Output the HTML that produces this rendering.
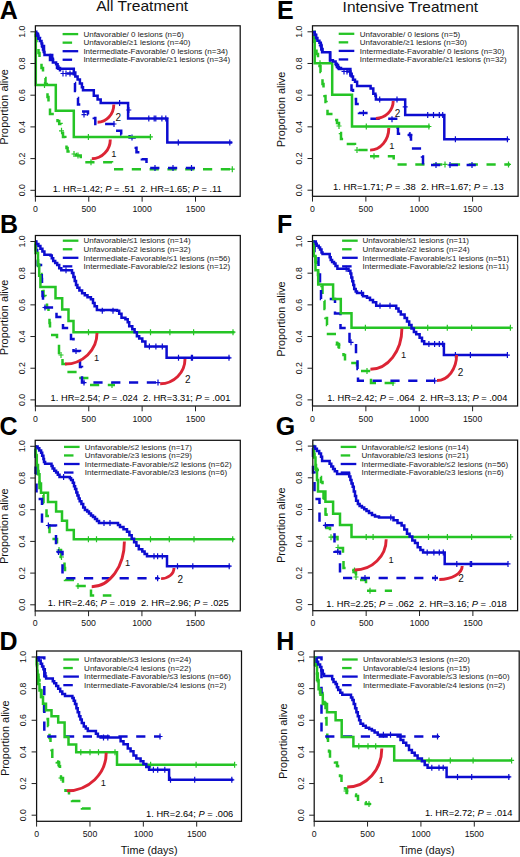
<!DOCTYPE html>
<html><head><meta charset="utf-8"><style>html,body{margin:0;padding:0;background:#fff;width:520px;height:857px;overflow:hidden}svg{display:block}</style></head>
<body><svg width="520" height="857" viewBox="0 0 520 857" font-family='"Liberation Sans", sans-serif'><style>text{stroke:none}</style><rect width="520" height="857" fill="#fff"/><text x="96.2" y="10.9" font-size="15" fill="#111" textLength="92" lengthAdjust="spacingAndGlyphs">All Treatment</text><text x="342.6" y="11.9" font-size="15" fill="#111" textLength="135.5" lengthAdjust="spacingAndGlyphs">Intensive Treatment</text><text x="-0.20" y="18.6" font-size="25" font-weight="bold" fill="#000">A</text><text x="277.00" y="18.6" font-size="25" font-weight="bold" fill="#000">E</text><text x="0.00" y="232.5" font-size="25" font-weight="bold" fill="#000">B</text><text x="277.00" y="232.6" font-size="25" font-weight="bold" fill="#000">F</text><text x="-0.40" y="435" font-size="25" font-weight="bold" fill="#000">C</text><text x="275.80" y="434.7" font-size="25" font-weight="bold" fill="#000">G</text><text x="-0.60" y="650.2" font-size="25" font-weight="bold" fill="#000">D</text><text x="276.30" y="650" font-size="25" font-weight="bold" fill="#000">H</text><g><path d="M35.4,31.8H35.8V36.0H36.5V43.0H37.5V48.0H38.5V53.0H39.5V58.0H40.5V63.0H41.5V68.0H43.0V72.0H44.5V78.0H45.5V84.0H46.8V92.0H47.5V97.0H48.5V103.0H49.2V108.0H50.0V114.0H56.0V118.0H57.5V121.0H59.2V124.0H61.5V129.0H62.3V133.0H63.0V137.0H65.3V144.0H66.5V148.0H67.6V151.5H72.2V154.0H76.0V155.5H80.7V157.0H85.0V162.3H112.0V169.2H235.0" fill="none" stroke="#25c425" stroke-width="2.5" stroke-dasharray="9.2 8.6" stroke-dashoffset="15.40"/><path d="M61.5,127.8V133.8M59.0,130.8H64.0" stroke="#25c425" stroke-width="1.2"/><path d="M74.0,151.0V157.0M71.5,154.0H76.5" stroke="#25c425" stroke-width="1.2"/><path d="M78.0,152.5V158.5M75.5,155.5H80.5" stroke="#25c425" stroke-width="1.2"/><path d="M91.0,159.3V165.3M88.5,162.3H93.5" stroke="#25c425" stroke-width="1.2"/><path d="M232.3,166.2V172.2M229.8,169.2H234.8" stroke="#25c425" stroke-width="1.2"/><path d="M35.4,31.8H36.5V34.0H38.0V38.0H40.0V42.0H42.0V46.0H44.0V51.0H46.0V55.0H50.0V60.0H53.0V64.0H57.0V68.0H60.0V73.5H73.8V83.0H75.0V91.0H76.5V98.0H78.0V104.6H80.7V111.5H88.0V114.6H93.8V118.0H95.3V124.0H117.3V130.8H121.2V134.6H129.6V137.5H135.8V147.7H136.5V152.3H141.9V159.2H146.5V163.8H149.0V167.9H196.3" fill="none" stroke="#0c0cd0" stroke-width="2.5" stroke-dasharray="9.2 8.6" stroke-dashoffset="16.10"/><path d="M63.0,70.5V76.5M60.5,73.5H65.5" stroke="#0c0cd0" stroke-width="1.2"/><path d="M66.0,70.5V76.5M63.5,73.5H68.5" stroke="#0c0cd0" stroke-width="1.2"/><path d="M70.0,70.5V76.5M67.5,73.5H72.5" stroke="#0c0cd0" stroke-width="1.2"/><path d="M84.0,111.6V117.6M81.5,114.6H86.5" stroke="#0c0cd0" stroke-width="1.2"/><path d="M114.0,121.0V127.0M111.5,124.0H116.5" stroke="#0c0cd0" stroke-width="1.2"/><path d="M132.0,134.5V140.5M129.5,137.5H134.5" stroke="#0c0cd0" stroke-width="1.2"/><path d="M155.0,164.9V170.9M152.5,167.9H157.5" stroke="#0c0cd0" stroke-width="1.2"/><path d="M173.0,164.9V170.9M170.5,167.9H175.5" stroke="#0c0cd0" stroke-width="1.2"/><path d="M191.5,164.9V170.9M189.0,167.9H194.0" stroke="#0c0cd0" stroke-width="1.2"/><path d="M35.8,31.8V84.9H55.8V110.8H73.8V136.9H151.2" fill="none" stroke="#25c425" stroke-width="2.5"/><path d="M44.5,81.9V87.9M42.0,84.9H47.0" stroke="#25c425" stroke-width="1.2"/><path d="M88.4,133.9V139.9M85.9,136.9H90.9" stroke="#25c425" stroke-width="1.2"/><path d="M150.4,133.9V139.9M147.9,136.9H152.9" stroke="#25c425" stroke-width="1.2"/><path d="M35.3,31.8H36.3V33.5H37.3V35.7H38.4V38.8H39.9V41.1H41.5V43.4H42.2V46.5H43.0V49.5H43.8V52.0H44.5V54.9H52.2V58.8H52.9V62.6H56.1V64.2H57.6V66.5H58.4V68.8H73.8V72.6H75.3V76.5H77.6V79.5H79.9V83.4H81.9V87.2H83.0V90.3H93.8V95.7H97.6V99.5H100.7V103.1H128.1V118.5H167.3V142.5H232.3" fill="none" stroke="#0c0cd0" stroke-width="2.5"/><path d="M119.6,100.1V106.1M117.1,103.1H122.1" stroke="#0c0cd0" stroke-width="1.2"/><path d="M128.8,107.0V113.0M126.3,110.0H131.3" stroke="#0c0cd0" stroke-width="1.2"/><path d="M148.8,115.5V121.5M146.3,118.5H151.3" stroke="#0c0cd0" stroke-width="1.2"/><path d="M154.2,115.5V121.5M151.7,118.5H156.7" stroke="#0c0cd0" stroke-width="1.2"/><path d="M155.8,115.5V121.5M153.3,118.5H158.3" stroke="#0c0cd0" stroke-width="1.2"/><path d="M161.9,115.5V121.5M159.4,118.5H164.4" stroke="#0c0cd0" stroke-width="1.2"/><path d="M165.8,115.5V121.5M163.3,118.5H168.3" stroke="#0c0cd0" stroke-width="1.2"/><path d="M178.3,139.5V145.5M175.8,142.5H180.8" stroke="#0c0cd0" stroke-width="1.2"/><path d="M229.8,139.5V145.5M227.3,142.5H232.3" stroke="#0c0cd0" stroke-width="1.2"/><path d="M97.6,122.2A16.2,17.7 0 0 0 113.8,104.5" fill="none" stroke="#dc2435" stroke-width="2.9"/><text x="115.6" y="120.8" font-size="10" fill="#111">2</text><path d="M91.8,158.8A18.5,19.4 0 0 0 110.3,139.4" fill="none" stroke="#dc2435" stroke-width="2.9"/><text x="111.3" y="156.8" font-size="9.3" fill="#111">1</text><rect x="35.4" y="25.8" width="204.79999999999998" height="170.6" fill="none" stroke="#111" stroke-width="1.25"/><line x1="35.40" y1="196.4" x2="35.40" y2="201.70000000000002" stroke="#222" stroke-width="1"/><text x="35.40" y="211.9" font-size="8.7" text-anchor="middle" fill="#111">0</text><line x1="88.77" y1="196.4" x2="88.77" y2="201.70000000000002" stroke="#222" stroke-width="1"/><text x="88.77" y="211.9" font-size="8.7" text-anchor="middle" fill="#111">500</text><line x1="142.13" y1="196.4" x2="142.13" y2="201.70000000000002" stroke="#222" stroke-width="1"/><text x="142.13" y="211.9" font-size="8.7" text-anchor="middle" fill="#111">1000</text><line x1="195.50" y1="196.4" x2="195.50" y2="201.70000000000002" stroke="#222" stroke-width="1"/><text x="195.50" y="211.9" font-size="8.7" text-anchor="middle" fill="#111">1500</text><line x1="30.4" y1="190.30" x2="35.4" y2="190.30" stroke="#222" stroke-width="1"/><text transform="translate(24.70,190.30) rotate(-90)" font-size="8.7" text-anchor="middle" fill="#111">0.0</text><line x1="30.4" y1="158.60" x2="35.4" y2="158.60" stroke="#222" stroke-width="1"/><text transform="translate(24.70,158.60) rotate(-90)" font-size="8.7" text-anchor="middle" fill="#111">0.2</text><line x1="30.4" y1="126.90" x2="35.4" y2="126.90" stroke="#222" stroke-width="1"/><text transform="translate(24.70,126.90) rotate(-90)" font-size="8.7" text-anchor="middle" fill="#111">0.4</text><line x1="30.4" y1="95.20" x2="35.4" y2="95.20" stroke="#222" stroke-width="1"/><text transform="translate(24.70,95.20) rotate(-90)" font-size="8.7" text-anchor="middle" fill="#111">0.6</text><line x1="30.4" y1="63.50" x2="35.4" y2="63.50" stroke="#222" stroke-width="1"/><text transform="translate(24.70,63.50) rotate(-90)" font-size="8.7" text-anchor="middle" fill="#111">0.8</text><line x1="30.4" y1="31.80" x2="35.4" y2="31.80" stroke="#222" stroke-width="1"/><text transform="translate(24.70,31.80) rotate(-90)" font-size="8.7" text-anchor="middle" fill="#111">1.0</text><text transform="translate(7.90,107.00) rotate(-90)" font-size="10.3" text-anchor="middle" fill="#111" textLength="75.5" lengthAdjust="spacingAndGlyphs">Proportion alive</text><line x1="62.6" y1="34.10" x2="78.20" y2="34.10" stroke="#25c425" stroke-width="2.3"/><text x="83.4" y="36.80" font-size="8.03" fill="#222">Unfavorable/ 0 lesions (n=6)</text><line x1="62.6" y1="42.65" x2="72.10" y2="42.65" stroke="#25c425" stroke-width="2.3"/><text x="83.4" y="45.35" font-size="8.03" fill="#222">Unfavorable/≥1 lesions (n=40)</text><line x1="62.6" y1="51.20" x2="78.20" y2="51.20" stroke="#0c0cd0" stroke-width="2.3"/><text x="83.4" y="53.90" font-size="8.03" fill="#222">Intermediate-Favorable/ 0 lesions (n=34)</text><line x1="62.6" y1="59.75" x2="72.10" y2="59.75" stroke="#0c0cd0" stroke-width="2.3"/><text x="83.4" y="62.45" font-size="8.03" fill="#222">Intermediate-Favorable/≥1 lesions (n=34)</text><text x="52.7" y="191.5" font-size="8.4" fill="#000" xml:space="preserve" textLength="169.0" lengthAdjust="spacingAndGlyphs">1. HR=1.42; <tspan font-style="italic">P</tspan> = .51  2. HR=1.65; <tspan font-style="italic">P</tspan> = .11</text></g><g><path d="M35.4,241.8H35.8V250.0H36.6V258.0H38.0V266.0H40.0V274.0H41.5V282.0H42.5V291.0H43.5V296.0H45.5V303.0H47.0V308.0H48.5V316.0H49.5V323.0H50.0V335.0H57.0V344.0H59.0V353.0H61.5V358.0H62.5V364.0H65.5V372.0H78.0V378.0H88.5V385.0H115.0" fill="none" stroke="#25c425" stroke-width="2.5" stroke-dasharray="9.2 8.6" stroke-dashoffset="15.80"/><path d="M61.0,352.0V358.0M58.5,355.0H63.5" stroke="#25c425" stroke-width="1.2"/><path d="M112.0,382.0V388.0M109.5,385.0H114.5" stroke="#25c425" stroke-width="1.2"/><path d="M35.4,241.8H36.0V250.0H37.2V257.0H37.8V265.0H41.0V271.0H41.8V279.0H42.0V286.0H42.5V296.0H43.0V307.5H56.5V317.0H63.0V328.0H71.0V339.0H73.5V351.0H80.0V367.0H82.0V382.6H158.0" fill="none" stroke="#0c0cd0" stroke-width="2.5" stroke-dasharray="9.2 8.6" stroke-dashoffset="14.80"/><path d="M45.0,304.5V310.5M42.5,307.5H47.5" stroke="#0c0cd0" stroke-width="1.2"/><path d="M76.0,348.0V354.0M73.5,351.0H78.5" stroke="#0c0cd0" stroke-width="1.2"/><path d="M84.0,379.6V385.6M81.5,382.6H86.5" stroke="#0c0cd0" stroke-width="1.2"/><path d="M158.0,379.6V385.6M155.5,382.6H160.5" stroke="#0c0cd0" stroke-width="1.2"/><path d="M35.4,241.8H35.6V253.1H38.0V264.4H39.2V275.7H40.4V287.0H55.5V298.3H62.2V309.6H68.5V320.9H73.5V332.2H234.5" fill="none" stroke="#25c425" stroke-width="2.5"/><path d="M88.5,329.2V335.2M86.0,332.2H91.0" stroke="#25c425" stroke-width="1.2"/><path d="M150.5,329.2V335.2M148.0,332.2H153.0" stroke="#25c425" stroke-width="1.2"/><path d="M169.9,329.2V335.2M167.4,332.2H172.4" stroke="#25c425" stroke-width="1.2"/><path d="M193.6,329.2V335.2M191.1,332.2H196.1" stroke="#25c425" stroke-width="1.2"/><path d="M233.0,329.2V335.2M230.5,332.2H235.5" stroke="#25c425" stroke-width="1.2"/><path d="M35.0,241.4H36.4V244.0H38.4V246.0H40.4V248.8H42.4V251.5H44.4V254.8H50.5V255.5H51.8V258.2H53.2V260.9H55.2V262.9H57.2V264.9H59.2V268.3H61.3V270.3H72.0V273.0H73.4V277.0H74.7V281.0H76.0V285.0H77.4V287.8H79.4V290.5H82.1V293.2H84.8V295.2H87.5V297.2H90.9V299.2H93.0V303.0H94.6V306.2H96.9V310.0H117.0V310.8H119.2V313.8H121.5V317.7H125.4V319.2H127.7V322.3H129.2V326.2H132.3V329.2H134.6V332.3H136.9V336.2H139.2V338.5H142.3V341.5H145.4V346.6H166.6V357.8H230.2" fill="none" stroke="#0c0cd0" stroke-width="2.5"/><path d="M66.0,267.3V273.3M63.5,270.3H68.5" stroke="#0c0cd0" stroke-width="1.2"/><path d="M102.3,307.8V313.8M99.8,310.8H104.8" stroke="#0c0cd0" stroke-width="1.2"/><path d="M113.0,307.8V313.8M110.5,310.8H115.5" stroke="#0c0cd0" stroke-width="1.2"/><path d="M149.4,343.6V349.6M146.9,346.6H151.9" stroke="#0c0cd0" stroke-width="1.2"/><path d="M155.9,343.6V349.6M153.4,346.6H158.4" stroke="#0c0cd0" stroke-width="1.2"/><path d="M162.3,343.6V349.6M159.8,346.6H164.8" stroke="#0c0cd0" stroke-width="1.2"/><path d="M178.5,354.8V360.8M176.0,357.8H181.0" stroke="#0c0cd0" stroke-width="1.2"/><path d="M191.4,354.8V360.8M188.9,357.8H193.9" stroke="#0c0cd0" stroke-width="1.2"/><path d="M192.5,354.8V360.8M190.0,357.8H195.0" stroke="#0c0cd0" stroke-width="1.2"/><path d="M229.0,354.8V360.8M226.5,357.8H231.5" stroke="#0c0cd0" stroke-width="1.2"/><path d="M65.0,364.0A32.0,31.0 0 0 0 97.0,333.0" fill="none" stroke="#dc2435" stroke-width="2.9"/><text x="94" y="361" font-size="9.3" fill="#111">1</text><path d="M160.2,383.7A24.8,24.7 0 0 0 185.0,359.0" fill="none" stroke="#dc2435" stroke-width="2.9"/><text x="185" y="382.6" font-size="10" fill="#111">2</text><rect x="35.4" y="235.5" width="204.9" height="170.5" fill="none" stroke="#111" stroke-width="1.25"/><line x1="35.40" y1="406.0" x2="35.40" y2="411.3" stroke="#222" stroke-width="1"/><text x="35.40" y="421.5" font-size="8.7" text-anchor="middle" fill="#111">0</text><line x1="88.77" y1="406.0" x2="88.77" y2="411.3" stroke="#222" stroke-width="1"/><text x="88.77" y="421.5" font-size="8.7" text-anchor="middle" fill="#111">500</text><line x1="142.13" y1="406.0" x2="142.13" y2="411.3" stroke="#222" stroke-width="1"/><text x="142.13" y="421.5" font-size="8.7" text-anchor="middle" fill="#111">1000</text><line x1="195.50" y1="406.0" x2="195.50" y2="411.3" stroke="#222" stroke-width="1"/><text x="195.50" y="421.5" font-size="8.7" text-anchor="middle" fill="#111">1500</text><line x1="30.4" y1="399.90" x2="35.4" y2="399.90" stroke="#222" stroke-width="1"/><text transform="translate(24.70,399.90) rotate(-90)" font-size="8.7" text-anchor="middle" fill="#111">0.0</text><line x1="30.4" y1="368.22" x2="35.4" y2="368.22" stroke="#222" stroke-width="1"/><text transform="translate(24.70,368.22) rotate(-90)" font-size="8.7" text-anchor="middle" fill="#111">0.2</text><line x1="30.4" y1="336.54" x2="35.4" y2="336.54" stroke="#222" stroke-width="1"/><text transform="translate(24.70,336.54) rotate(-90)" font-size="8.7" text-anchor="middle" fill="#111">0.4</text><line x1="30.4" y1="304.86" x2="35.4" y2="304.86" stroke="#222" stroke-width="1"/><text transform="translate(24.70,304.86) rotate(-90)" font-size="8.7" text-anchor="middle" fill="#111">0.6</text><line x1="30.4" y1="273.18" x2="35.4" y2="273.18" stroke="#222" stroke-width="1"/><text transform="translate(24.70,273.18) rotate(-90)" font-size="8.7" text-anchor="middle" fill="#111">0.8</text><line x1="30.4" y1="241.50" x2="35.4" y2="241.50" stroke="#222" stroke-width="1"/><text transform="translate(24.70,241.50) rotate(-90)" font-size="8.7" text-anchor="middle" fill="#111">1.0</text><text transform="translate(7.90,317.50) rotate(-90)" font-size="10.3" text-anchor="middle" fill="#111" textLength="75.5" lengthAdjust="spacingAndGlyphs">Proportion alive</text><line x1="62.8" y1="240.70" x2="78.40" y2="240.70" stroke="#25c425" stroke-width="2.3"/><text x="83.5" y="243.40" font-size="8.03" fill="#222">Unfavorable/≤1 lesions (n=14)</text><line x1="62.8" y1="249.25" x2="72.30" y2="249.25" stroke="#25c425" stroke-width="2.3"/><text x="83.5" y="251.95" font-size="8.03" fill="#222">Unfavorable/≥2 lesions (n=32)</text><line x1="62.8" y1="257.80" x2="78.40" y2="257.80" stroke="#0c0cd0" stroke-width="2.3"/><text x="83.5" y="260.50" font-size="8.03" fill="#222">Intermediate-Favorable/≤1 lesions (n=56)</text><line x1="62.8" y1="266.35" x2="72.30" y2="266.35" stroke="#0c0cd0" stroke-width="2.3"/><text x="83.5" y="269.05" font-size="8.03" fill="#222">Intermediate-Favorable/≥2 lesions (n=12)</text><text x="50.6" y="401.2" font-size="8.4" fill="#000" xml:space="preserve" textLength="179.8" lengthAdjust="spacingAndGlyphs">1. HR=2.54; <tspan font-style="italic">P</tspan> = .024  2. HR=3.31; <tspan font-style="italic">P</tspan> = .001</text></g><g><path d="M35.2,446.3H35.8V455.0H36.5V463.0H37.2V471.0H38.5V480.0H39.5V488.0H42.0V495.0H43.5V503.0H45.5V508.0H46.5V516.0H49.5V539.0H57.0V550.0H61.0V557.0H63.0V562.0H64.5V568.0H65.0V580.0H76.0V586.0H91.0V595.4H111.4" fill="none" stroke="#25c425" stroke-width="2.5" stroke-dasharray="9.2 8.6" stroke-dashoffset="14.70"/><path d="M59.0,547.0V553.0M56.5,550.0H61.5" stroke="#25c425" stroke-width="1.2"/><path d="M61.5,554.0V560.0M59.0,557.0H64.0" stroke="#25c425" stroke-width="1.2"/><path d="M78.0,583.0V589.0M75.5,586.0H80.5" stroke="#25c425" stroke-width="1.2"/><path d="M35.2,446.3H35.6V472.7H36.5V499.1H42.0V525.5H56.0V551.9H62.5V578.3H158.7" fill="none" stroke="#0c0cd0" stroke-width="2.5" stroke-dasharray="9.2 8.6" stroke-dashoffset="15.00"/><path d="M48.4,522.5V528.5M45.9,525.5H50.9" stroke="#0c0cd0" stroke-width="1.2"/><path d="M58.5,548.9V554.9M56.0,551.9H61.0" stroke="#0c0cd0" stroke-width="1.2"/><path d="M157.6,575.3V581.3M155.1,578.3H160.1" stroke="#0c0cd0" stroke-width="1.2"/><path d="M35.3,446.3H35.8V455.6H36.8V464.9H38.0V474.2H39.5V483.5H41.0V492.8H48.0V502.1H56.1V511.4H62.0V520.7H67.0V530.0H73.8V539.2H233.8" fill="none" stroke="#25c425" stroke-width="2.5"/><path d="M88.4,536.2V542.2M85.9,539.2H90.9" stroke="#25c425" stroke-width="1.2"/><path d="M96.5,536.2V542.2M94.0,539.2H99.0" stroke="#25c425" stroke-width="1.2"/><path d="M150.5,536.2V542.2M148.0,539.2H153.0" stroke="#25c425" stroke-width="1.2"/><path d="M169.3,536.2V542.2M166.8,539.2H171.8" stroke="#25c425" stroke-width="1.2"/><path d="M194.0,536.2V542.2M191.5,539.2H196.5" stroke="#25c425" stroke-width="1.2"/><path d="M232.7,536.2V542.2M230.2,539.2H235.2" stroke="#25c425" stroke-width="1.2"/><path d="M35.3,446.5H37.6V448.2H39.3V450.5H41.1V452.8H42.2V455.7H43.4V459.1H44.0V462.0H45.1V463.8H51.5V466.1H52.6V468.4H54.3V470.7H56.1V472.4H57.8V474.7H59.5V477.0H69.9V478.2H71.1V479.9H72.8V482.8H74.0V486.3H75.1V489.1H76.3V492.6H77.4V495.5H78.6V498.4H79.7V501.2H81.4V504.1H83.2V507.6H84.9V509.9H87.2V511.6H89.0V513.5H91.0V515.5H93.0V517.0H95.0V519.0H97.0V521.0H99.0V523.0H118.0V525.0H120.0V527.0H123.5V529.3H127.0V531.7H129.4V535.2H131.7V538.7H134.1V542.3H136.4V545.8H138.8V549.3H142.3V551.6H144.6V554.0H147.0V556.3H167.0V566.2H230.3" fill="none" stroke="#0c0cd0" stroke-width="2.5"/><path d="M63.6,474.0V480.0M61.1,477.0H66.1" stroke="#0c0cd0" stroke-width="1.2"/><path d="M104.0,520.0V526.0M101.5,523.0H106.5" stroke="#0c0cd0" stroke-width="1.2"/><path d="M110.0,520.0V526.0M107.5,523.0H112.5" stroke="#0c0cd0" stroke-width="1.2"/><path d="M154.0,553.3V559.3M151.5,556.3H156.5" stroke="#0c0cd0" stroke-width="1.2"/><path d="M157.6,553.3V559.3M155.1,556.3H160.1" stroke="#0c0cd0" stroke-width="1.2"/><path d="M162.3,553.3V559.3M159.8,556.3H164.8" stroke="#0c0cd0" stroke-width="1.2"/><path d="M177.5,563.2V569.2M175.0,566.2H180.0" stroke="#0c0cd0" stroke-width="1.2"/><path d="M192.8,563.2V569.2M190.3,566.2H195.3" stroke="#0c0cd0" stroke-width="1.2"/><path d="M229.2,563.2V569.2M226.7,566.2H231.7" stroke="#0c0cd0" stroke-width="1.2"/><path d="M91.7,586.7A32.7,45.2 0 0 0 124.4,541.5" fill="none" stroke="#dc2435" stroke-width="2.9"/><text x="124.9" y="565.6" font-size="9.3" fill="#111">1</text><path d="M161.1,578.6A12.9,10.6 0 0 0 174.0,568.0" fill="none" stroke="#dc2435" stroke-width="2.9"/><text x="177.5" y="583.3" font-size="10" fill="#111">2</text><rect x="35.2" y="440.3" width="205.10000000000002" height="170.59999999999997" fill="none" stroke="#111" stroke-width="1.25"/><line x1="35.20" y1="610.9" x2="35.20" y2="616.1999999999999" stroke="#222" stroke-width="1"/><text x="35.20" y="626.4" font-size="8.7" text-anchor="middle" fill="#111">0</text><line x1="88.56" y1="610.9" x2="88.56" y2="616.1999999999999" stroke="#222" stroke-width="1"/><text x="88.56" y="626.4" font-size="8.7" text-anchor="middle" fill="#111">500</text><line x1="141.93" y1="610.9" x2="141.93" y2="616.1999999999999" stroke="#222" stroke-width="1"/><text x="141.93" y="626.4" font-size="8.7" text-anchor="middle" fill="#111">1000</text><line x1="195.30" y1="610.9" x2="195.30" y2="616.1999999999999" stroke="#222" stroke-width="1"/><text x="195.30" y="626.4" font-size="8.7" text-anchor="middle" fill="#111">1500</text><line x1="30.200000000000003" y1="604.80" x2="35.2" y2="604.80" stroke="#222" stroke-width="1"/><text transform="translate(24.50,604.80) rotate(-90)" font-size="8.7" text-anchor="middle" fill="#111">0.0</text><line x1="30.200000000000003" y1="573.10" x2="35.2" y2="573.10" stroke="#222" stroke-width="1"/><text transform="translate(24.50,573.10) rotate(-90)" font-size="8.7" text-anchor="middle" fill="#111">0.2</text><line x1="30.200000000000003" y1="541.40" x2="35.2" y2="541.40" stroke="#222" stroke-width="1"/><text transform="translate(24.50,541.40) rotate(-90)" font-size="8.7" text-anchor="middle" fill="#111">0.4</text><line x1="30.200000000000003" y1="509.70" x2="35.2" y2="509.70" stroke="#222" stroke-width="1"/><text transform="translate(24.50,509.70) rotate(-90)" font-size="8.7" text-anchor="middle" fill="#111">0.6</text><line x1="30.200000000000003" y1="478.00" x2="35.2" y2="478.00" stroke="#222" stroke-width="1"/><text transform="translate(24.50,478.00) rotate(-90)" font-size="8.7" text-anchor="middle" fill="#111">0.8</text><line x1="30.200000000000003" y1="446.30" x2="35.2" y2="446.30" stroke="#222" stroke-width="1"/><text transform="translate(24.50,446.30) rotate(-90)" font-size="8.7" text-anchor="middle" fill="#111">1.0</text><text transform="translate(7.70,526.20) rotate(-90)" font-size="10.3" text-anchor="middle" fill="#111" textLength="75.5" lengthAdjust="spacingAndGlyphs">Proportion alive</text><line x1="64.0" y1="446.90" x2="79.60" y2="446.90" stroke="#25c425" stroke-width="2.3"/><text x="84.8" y="449.60" font-size="8.03" fill="#222">Unfavorable/≤2 lesions (n=17)</text><line x1="64.0" y1="455.45" x2="73.50" y2="455.45" stroke="#25c425" stroke-width="2.3"/><text x="84.8" y="458.15" font-size="8.03" fill="#222">Unfavorable/≥3 lesions (n=29)</text><line x1="64.0" y1="464.00" x2="79.60" y2="464.00" stroke="#0c0cd0" stroke-width="2.3"/><text x="84.8" y="466.70" font-size="8.03" fill="#222">Intermediate-Favorable/≤2 lesions (n=62)</text><line x1="64.0" y1="472.55" x2="73.50" y2="472.55" stroke="#0c0cd0" stroke-width="2.3"/><text x="84.8" y="475.25" font-size="8.03" fill="#222">Intermediate-Favorable/≥3 lesions (n=6)</text><text x="47.8" y="605.8" font-size="8.4" fill="#000" xml:space="preserve" textLength="181.0" lengthAdjust="spacingAndGlyphs">1. HR=2.46; <tspan font-style="italic">P</tspan> = .019  2. HR=2.96; <tspan font-style="italic">P</tspan> = .025</text></g><g><path d="M36.6,657.6H37.0V666.0H37.5V673.0H38.5V680.0H39.5V690.0H41.0V697.0H42.5V704.0H44.0V711.0H46.0V719.0H48.0V726.0H49.5V738.0H50.5V742.0H51.5V750.0H52.3V759.0H57.0V762.0H59.0V766.0H60.0V769.0H61.0V778.0H63.0V784.6H65.5V790.8H69.0V797.0H72.0V801.0H82.0V808.5H93.0" fill="none" stroke="#25c425" stroke-width="2.5" stroke-dasharray="9.2 8.6" stroke-dashoffset="0.00"/><path d="M58.0,760.0V766.0M55.5,763.0H60.5" stroke="#25c425" stroke-width="1.2"/><path d="M61.0,775.0V781.0M58.5,778.0H63.5" stroke="#25c425" stroke-width="1.2"/><path d="M36.6,657.6H44.3V736.5H160.5" fill="none" stroke="#0c0cd0" stroke-width="2.5" stroke-dasharray="9.2 8.6" stroke-dashoffset="17.30"/><path d="M160.0,733.5V739.5M157.5,736.5H162.5" stroke="#0c0cd0" stroke-width="1.2"/><path d="M36.6,657.6H36.8V664.2H37.2V670.8H37.6V677.3H38.2V683.9H39.5V690.5H41.5V697.1H43.0V703.7H46.0V710.3H51.5V716.3H58.2V722.6H64.6V737.0H68.5V744.6H76.2V752.3H117.0V764.8H234.6" fill="none" stroke="#25c425" stroke-width="2.5"/><path d="M80.8,749.3V755.3M78.3,752.3H83.3" stroke="#25c425" stroke-width="1.2"/><path d="M90.0,749.3V755.3M87.5,752.3H92.5" stroke="#25c425" stroke-width="1.2"/><path d="M98.5,749.3V755.3M96.0,752.3H101.0" stroke="#25c425" stroke-width="1.2"/><path d="M115.0,749.3V755.3M112.5,752.3H117.5" stroke="#25c425" stroke-width="1.2"/><path d="M150.6,761.8V767.8M148.1,764.8H153.1" stroke="#25c425" stroke-width="1.2"/><path d="M196.1,761.8V767.8M193.6,764.8H198.6" stroke="#25c425" stroke-width="1.2"/><path d="M234.6,761.8V767.8M232.1,764.8H237.1" stroke="#25c425" stroke-width="1.2"/><path d="M36.7,657.7H38.7V660.4H40.7V663.8H42.1V666.5H43.4V669.2H44.8V673.2H45.4V676.6H46.1V678.6H52.8V681.3H54.2V683.3H56.2V686.0H58.2V688.7H60.2V691.4H62.3V694.0H65.0V696.1H72.4V698.1H73.7V700.8H75.0V704.1H76.4V708.2H77.7V712.2H79.1V716.3H80.4V719.6H81.8V723.0H83.8V726.4H85.8V728.4H87.8V731.1H95.9V733.8H97.9V736.4H100.6V737.5H120.6V741.3H123.5V744.2H127.8V748.4H130.6V751.3H133.5V755.6H136.3V758.4H140.6V761.3H143.4V764.1H146.3V767.0H149.1V769.8H169.1V779.8H233.2" fill="none" stroke="#0c0cd0" stroke-width="2.5"/><path d="M103.5,734.5V740.5M101.0,737.5H106.0" stroke="#0c0cd0" stroke-width="1.2"/><path d="M107.8,734.5V740.5M105.3,737.5H110.3" stroke="#0c0cd0" stroke-width="1.2"/><path d="M153.4,766.8V772.8M150.9,769.8H155.9" stroke="#0c0cd0" stroke-width="1.2"/><path d="M157.7,766.8V772.8M155.2,769.8H160.2" stroke="#0c0cd0" stroke-width="1.2"/><path d="M164.8,766.8V772.8M162.3,769.8H167.3" stroke="#0c0cd0" stroke-width="1.2"/><path d="M170.5,776.8V782.8M168.0,779.8H173.0" stroke="#0c0cd0" stroke-width="1.2"/><path d="M194.7,776.8V782.8M192.2,779.8H197.2" stroke="#0c0cd0" stroke-width="1.2"/><path d="M231.8,776.8V782.8M229.3,779.8H234.3" stroke="#0c0cd0" stroke-width="1.2"/><path d="M66.9,790.8A39.3,38.0 0 0 0 106.2,752.8" fill="none" stroke="#dc2435" stroke-width="2.9"/><text x="100.8" y="786.2" font-size="9.3" fill="#111">1</text><rect x="36.6" y="651.0" width="204.9" height="170.29999999999995" fill="none" stroke="#111" stroke-width="1.25"/><line x1="36.60" y1="821.3" x2="36.60" y2="826.5999999999999" stroke="#222" stroke-width="1"/><text x="36.60" y="836.8" font-size="8.7" text-anchor="middle" fill="#111">0</text><line x1="89.97" y1="821.3" x2="89.97" y2="826.5999999999999" stroke="#222" stroke-width="1"/><text x="89.97" y="836.8" font-size="8.7" text-anchor="middle" fill="#111">500</text><line x1="143.33" y1="821.3" x2="143.33" y2="826.5999999999999" stroke="#222" stroke-width="1"/><text x="143.33" y="836.8" font-size="8.7" text-anchor="middle" fill="#111">1000</text><line x1="196.69" y1="821.3" x2="196.69" y2="826.5999999999999" stroke="#222" stroke-width="1"/><text x="196.69" y="836.8" font-size="8.7" text-anchor="middle" fill="#111">1500</text><line x1="31.6" y1="815.20" x2="36.6" y2="815.20" stroke="#222" stroke-width="1"/><text transform="translate(25.90,815.20) rotate(-90)" font-size="8.7" text-anchor="middle" fill="#111">0.0</text><line x1="31.6" y1="783.56" x2="36.6" y2="783.56" stroke="#222" stroke-width="1"/><text transform="translate(25.90,783.56) rotate(-90)" font-size="8.7" text-anchor="middle" fill="#111">0.2</text><line x1="31.6" y1="751.92" x2="36.6" y2="751.92" stroke="#222" stroke-width="1"/><text transform="translate(25.90,751.92) rotate(-90)" font-size="8.7" text-anchor="middle" fill="#111">0.4</text><line x1="31.6" y1="720.28" x2="36.6" y2="720.28" stroke="#222" stroke-width="1"/><text transform="translate(25.90,720.28) rotate(-90)" font-size="8.7" text-anchor="middle" fill="#111">0.6</text><line x1="31.6" y1="688.64" x2="36.6" y2="688.64" stroke="#222" stroke-width="1"/><text transform="translate(25.90,688.64) rotate(-90)" font-size="8.7" text-anchor="middle" fill="#111">0.8</text><line x1="31.6" y1="657.00" x2="36.6" y2="657.00" stroke="#222" stroke-width="1"/><text transform="translate(25.90,657.00) rotate(-90)" font-size="8.7" text-anchor="middle" fill="#111">1.0</text><text transform="translate(9.10,738.30) rotate(-90)" font-size="10.3" text-anchor="middle" fill="#111" textLength="75.5" lengthAdjust="spacingAndGlyphs">Proportion alive</text><line x1="63.3" y1="659.50" x2="78.90" y2="659.50" stroke="#25c425" stroke-width="2.3"/><text x="84.1" y="662.20" font-size="8.03" fill="#222">Unfavorable/≤3 lesions (n=24)</text><line x1="63.3" y1="668.05" x2="72.80" y2="668.05" stroke="#25c425" stroke-width="2.3"/><text x="84.1" y="670.75" font-size="8.03" fill="#222">Unfavorable/≥4 lesions (n=22)</text><line x1="63.3" y1="676.60" x2="78.90" y2="676.60" stroke="#0c0cd0" stroke-width="2.3"/><text x="84.1" y="679.30" font-size="8.03" fill="#222">Intermediate-Favorable/≤3 lesions (n=66)</text><line x1="63.3" y1="685.15" x2="72.80" y2="685.15" stroke="#0c0cd0" stroke-width="2.3"/><text x="84.1" y="687.85" font-size="8.03" fill="#222">Intermediate-Favorable/≥4 lesions (n=2)</text><text x="146.1" y="817.2" font-size="8.4" fill="#000" xml:space="preserve" textLength="87.2" lengthAdjust="spacingAndGlyphs">1. HR=2.64; <tspan font-style="italic">P</tspan> = .006</text></g><g><path d="M312.5,31.8H313.5V38.0H314.5V44.0H315.5V49.0H316.5V54.0H318.0V60.0H319.5V66.0H320.5V72.0H321.5V78.0H322.5V84.0H323.5V90.0H324.5V96.0H325.5V102.0H326.5V108.0H327.5V114.0H333.0V117.0H335.0V120.0H337.0V123.0H339.0V127.0H340.0V133.0H341.0V139.0H345.0V144.0H355.0V150.1H369.0V156.3H393.7V164.4H510.0" fill="none" stroke="#25c425" stroke-width="2.5" stroke-dasharray="9.2 8.6" stroke-dashoffset="13.80"/><path d="M339.0,123.0V129.0M336.5,126.0H341.5" stroke="#25c425" stroke-width="1.2"/><path d="M357.0,147.1V153.1M354.5,150.1H359.5" stroke="#25c425" stroke-width="1.2"/><path d="M374.0,153.3V159.3M371.5,156.3H376.5" stroke="#25c425" stroke-width="1.2"/><path d="M445.0,161.4V167.4M442.5,164.4H447.5" stroke="#25c425" stroke-width="1.2"/><path d="M508.5,161.4V167.4M506.0,164.4H511.0" stroke="#25c425" stroke-width="1.2"/><path d="M312.5,32.0H314.5V35.0H316.0V38.5H318.0V41.5H320.0V45.0H321.5V49.0H322.5V53.0H330.0V60.5H333.0V62.5H336.0V65.0H338.0V68.0H341.0V71.5H350.4V81.8H351.5V90.0H353.0V99.0H356.0V104.0H359.0V113.0H370.0V118.8H397.5V127.5H398.0V133.8H409.0V135.0H411.0V148.5H422.0V156.6H423.0V165.0H476.0" fill="none" stroke="#0c0cd0" stroke-width="2.5" stroke-dasharray="9.2 8.6" stroke-dashoffset="15.50"/><path d="M344.0,68.5V74.5M341.5,71.5H346.5" stroke="#0c0cd0" stroke-width="1.2"/><path d="M347.0,68.5V74.5M344.5,71.5H349.5" stroke="#0c0cd0" stroke-width="1.2"/><path d="M363.4,110.0V116.0M360.9,113.0H365.9" stroke="#0c0cd0" stroke-width="1.2"/><path d="M392.0,116.3V122.3M389.5,119.3H394.5" stroke="#0c0cd0" stroke-width="1.2"/><path d="M410.0,132.0V138.0M407.5,135.0H412.5" stroke="#0c0cd0" stroke-width="1.2"/><path d="M436.0,162.0V168.0M433.5,165.0H438.5" stroke="#0c0cd0" stroke-width="1.2"/><path d="M450.0,162.0V168.0M447.5,165.0H452.5" stroke="#0c0cd0" stroke-width="1.2"/><path d="M472.0,162.0V168.0M469.5,165.0H474.5" stroke="#0c0cd0" stroke-width="1.2"/><path d="M313.2,31.8H314.7V63.3H332.2V94.8H352.0V126.5H430.0" fill="none" stroke="#25c425" stroke-width="2.5"/><path d="M320.0,60.3V66.3M317.5,63.3H322.5" stroke="#25c425" stroke-width="1.2"/><path d="M366.3,123.5V129.5M363.8,126.5H368.8" stroke="#25c425" stroke-width="1.2"/><path d="M428.9,123.5V129.5M426.4,126.5H431.4" stroke="#25c425" stroke-width="1.2"/><path d="M312.7,32.0H314.7V34.7H316.0V38.0H317.4V40.8H319.4V42.8H320.8V46.2H321.4V49.5H322.1V52.2H330.2V60.3H332.9V61.6H335.6V63.7H336.9V67.0H338.9V69.0H350.4V73.8H351.7V76.5H353.0V79.8H355.0V81.8H357.1V85.9H370.6V88.6H373.3V93.8H375.4V95.8H375.9V99.6H405.2V115.0H444.3V139.3H508.5" fill="none" stroke="#0c0cd0" stroke-width="2.5"/><path d="M379.7,96.6V102.6M377.2,99.6H382.2" stroke="#0c0cd0" stroke-width="1.2"/><path d="M397.0,96.6V102.6M394.5,99.6H399.5" stroke="#0c0cd0" stroke-width="1.2"/><path d="M405.2,103.8V109.8M402.7,106.8H407.7" stroke="#0c0cd0" stroke-width="1.2"/><path d="M427.7,112.0V118.0M425.2,115.0H430.2" stroke="#0c0cd0" stroke-width="1.2"/><path d="M433.5,112.0V118.0M431.0,115.0H436.0" stroke="#0c0cd0" stroke-width="1.2"/><path d="M439.3,112.0V118.0M436.8,115.0H441.8" stroke="#0c0cd0" stroke-width="1.2"/><path d="M442.7,112.0V118.0M440.2,115.0H445.2" stroke="#0c0cd0" stroke-width="1.2"/><path d="M455.4,136.3V142.3M452.9,139.3H457.9" stroke="#0c0cd0" stroke-width="1.2"/><path d="M507.4,136.3V142.3M504.9,139.3H509.9" stroke="#0c0cd0" stroke-width="1.2"/><path d="M375.9,118.4A17.3,17.3 0 0 0 393.2,101.1" fill="none" stroke="#dc2435" stroke-width="2.9"/><text x="394.8" y="116.9" font-size="10" fill="#111">2</text><path d="M370.1,150.1A18.7,22.1 0 0 0 388.8,128.0" fill="none" stroke="#dc2435" stroke-width="2.9"/><text x="389.3" y="148.7" font-size="9.3" fill="#111">1</text><rect x="312.5" y="25.8" width="205.60000000000002" height="170.5" fill="none" stroke="#111" stroke-width="1.25"/><line x1="312.50" y1="196.3" x2="312.50" y2="201.60000000000002" stroke="#222" stroke-width="1"/><text x="312.50" y="211.8" font-size="8.7" text-anchor="middle" fill="#111">0</text><line x1="365.87" y1="196.3" x2="365.87" y2="201.60000000000002" stroke="#222" stroke-width="1"/><text x="365.87" y="211.8" font-size="8.7" text-anchor="middle" fill="#111">500</text><line x1="419.23" y1="196.3" x2="419.23" y2="201.60000000000002" stroke="#222" stroke-width="1"/><text x="419.23" y="211.8" font-size="8.7" text-anchor="middle" fill="#111">1000</text><line x1="472.60" y1="196.3" x2="472.60" y2="201.60000000000002" stroke="#222" stroke-width="1"/><text x="472.60" y="211.8" font-size="8.7" text-anchor="middle" fill="#111">1500</text><line x1="307.5" y1="190.20" x2="312.5" y2="190.20" stroke="#222" stroke-width="1"/><text transform="translate(301.80,190.20) rotate(-90)" font-size="8.7" text-anchor="middle" fill="#111">0.0</text><line x1="307.5" y1="158.52" x2="312.5" y2="158.52" stroke="#222" stroke-width="1"/><text transform="translate(301.80,158.52) rotate(-90)" font-size="8.7" text-anchor="middle" fill="#111">0.2</text><line x1="307.5" y1="126.84" x2="312.5" y2="126.84" stroke="#222" stroke-width="1"/><text transform="translate(301.80,126.84) rotate(-90)" font-size="8.7" text-anchor="middle" fill="#111">0.4</text><line x1="307.5" y1="95.16" x2="312.5" y2="95.16" stroke="#222" stroke-width="1"/><text transform="translate(301.80,95.16) rotate(-90)" font-size="8.7" text-anchor="middle" fill="#111">0.6</text><line x1="307.5" y1="63.48" x2="312.5" y2="63.48" stroke="#222" stroke-width="1"/><text transform="translate(301.80,63.48) rotate(-90)" font-size="8.7" text-anchor="middle" fill="#111">0.8</text><line x1="307.5" y1="31.80" x2="312.5" y2="31.80" stroke="#222" stroke-width="1"/><text transform="translate(301.80,31.80) rotate(-90)" font-size="8.7" text-anchor="middle" fill="#111">1.0</text><text transform="translate(285.00,109.40) rotate(-90)" font-size="10.3" text-anchor="middle" fill="#111" textLength="75.5" lengthAdjust="spacingAndGlyphs">Proportion alive</text><line x1="338.7" y1="33.80" x2="354.30" y2="33.80" stroke="#25c425" stroke-width="2.3"/><text x="359.8" y="36.50" font-size="8.03" fill="#222">Unfavorable/ 0 lesions (n=5)</text><line x1="338.7" y1="42.35" x2="348.20" y2="42.35" stroke="#25c425" stroke-width="2.3"/><text x="359.8" y="45.05" font-size="8.03" fill="#222">Unfavorable/≥1 lesions (n=30)</text><line x1="338.7" y1="50.90" x2="354.30" y2="50.90" stroke="#0c0cd0" stroke-width="2.3"/><text x="359.8" y="53.60" font-size="8.03" fill="#222">Intermediate-Favorable/ 0 lesions (n=30)</text><line x1="338.7" y1="59.45" x2="348.20" y2="59.45" stroke="#0c0cd0" stroke-width="2.3"/><text x="359.8" y="62.15" font-size="8.03" fill="#222">Intermediate-Favorable/≥1 lesions (n=32)</text><text x="333.1" y="189.9" font-size="8.4" fill="#000" xml:space="preserve" textLength="170.5" lengthAdjust="spacingAndGlyphs">1. HR=1.71; <tspan font-style="italic">P</tspan> = .38  2. HR=1.67; <tspan font-style="italic">P</tspan> = .13</text></g><g><path d="M312.5,241.5H313.5V248.0H314.5V255.0H315.5V262.0H317.0V269.0H318.0V275.0H319.0V281.0H321.5V286.0H322.5V295.0H323.5V301.0H324.5V309.0H325.5V318.0H327.0V325.0H328.0V334.0H337.0V344.0H339.0V349.0H343.5V355.0H345.0V363.0H357.0V367.0H358.0V371.0H371.0V383.0H394.0" fill="none" stroke="#25c425" stroke-width="2.5" stroke-dasharray="9.2 8.6" stroke-dashoffset="0.00"/><path d="M338.0,342.0V348.0M335.5,345.0H340.5" stroke="#25c425" stroke-width="1.2"/><path d="M367.0,368.0V374.0M364.5,371.0H369.5" stroke="#25c425" stroke-width="1.2"/><path d="M393.0,380.0V386.0M390.5,383.0H395.5" stroke="#25c425" stroke-width="1.2"/><path d="M312.5,241.5H314.5V255.9H318.5V270.3H320.0V284.7H321.0V299.1H335.0V313.5H340.5V327.9H349.5V342.3H356.0V356.7H357.5V369.0H358.0V380.8H437.0" fill="none" stroke="#0c0cd0" stroke-width="2.5" stroke-dasharray="9.2 8.6" stroke-dashoffset="14.20"/><path d="M351.0,339.3V345.3M348.5,342.3H353.5" stroke="#0c0cd0" stroke-width="1.2"/><path d="M434.6,377.8V383.8M432.1,380.8H437.1" stroke="#0c0cd0" stroke-width="1.2"/><path d="M312.5,241.5H313.8V255.9H315.5V270.3H318.2V284.5H333.1V298.9H340.8V313.2H351.5V327.8H510.9" fill="none" stroke="#25c425" stroke-width="2.5"/><path d="M365.4,324.8V330.8M362.9,327.8H367.9" stroke="#25c425" stroke-width="1.2"/><path d="M427.7,324.8V330.8M425.2,327.8H430.2" stroke="#25c425" stroke-width="1.2"/><path d="M447.3,324.8V330.8M444.8,327.8H449.8" stroke="#25c425" stroke-width="1.2"/><path d="M471.6,324.8V330.8M469.1,327.8H474.1" stroke="#25c425" stroke-width="1.2"/><path d="M510.4,324.8V330.8M507.9,327.8H512.9" stroke="#25c425" stroke-width="1.2"/><path d="M313.4,241.4H315.8V243.8H316.7V245.7H318.7V247.6H320.1V249.5H321.5V252.4H322.5V253.9H329.7V257.2H330.7V260.1H332.1V262.0H334.0V263.5H335.5V265.9H337.4V268.8H348.5V270.7H350.4V273.6H351.3V277.4H352.3V281.3H353.3V285.1H354.2V289.0H355.7V291.4H357.0V293.0H363.0V296.2H367.0V297.7H370.0V300.0H373.0V302.3H376.2V305.7H396.2V308.5H398.5V311.5H400.8V314.6H404.6V318.0H407.0V321.6H409.2V325.0H411.5V328.5H413.9V332.0H416.2V334.3H419.6V337.8H422.0V341.2H424.2V344.0H443.9V355.1H507.4" fill="none" stroke="#0c0cd0" stroke-width="2.5"/><path d="M346.2,265.8V271.8M343.7,268.8H348.7" stroke="#0c0cd0" stroke-width="1.2"/><path d="M361.5,290.0V296.0M359.0,293.0H364.0" stroke="#0c0cd0" stroke-width="1.2"/><path d="M380.0,302.7V308.7M377.5,305.7H382.5" stroke="#0c0cd0" stroke-width="1.2"/><path d="M390.0,302.7V308.7M387.5,305.7H392.5" stroke="#0c0cd0" stroke-width="1.2"/><path d="M428.9,341.0V347.0M426.4,344.0H431.4" stroke="#0c0cd0" stroke-width="1.2"/><path d="M434.6,341.0V347.0M432.1,344.0H437.1" stroke="#0c0cd0" stroke-width="1.2"/><path d="M439.3,341.0V347.0M436.8,344.0H441.8" stroke="#0c0cd0" stroke-width="1.2"/><path d="M442.7,341.0V347.0M440.2,344.0H445.2" stroke="#0c0cd0" stroke-width="1.2"/><path d="M455.4,352.1V358.1M452.9,355.1H457.9" stroke="#0c0cd0" stroke-width="1.2"/><path d="M470.4,352.1V358.1M467.9,355.1H472.9" stroke="#0c0cd0" stroke-width="1.2"/><path d="M507.4,352.1V358.1M504.9,355.1H509.9" stroke="#0c0cd0" stroke-width="1.2"/><path d="M370.4,369.2A31.5,40.7 0 0 0 401.9,328.5" fill="none" stroke="#dc2435" stroke-width="2.9"/><text x="401" y="357.7" font-size="9.3" fill="#111">1</text><path d="M437.0,380.5A19.6,25.4 0 0 0 456.6,355.1" fill="none" stroke="#dc2435" stroke-width="2.9"/><text x="457.7" y="376" font-size="10" fill="#111">2</text><rect x="312.5" y="235.5" width="205.10000000000002" height="170.5" fill="none" stroke="#111" stroke-width="1.25"/><line x1="312.50" y1="406.0" x2="312.50" y2="411.3" stroke="#222" stroke-width="1"/><text x="312.50" y="421.5" font-size="8.7" text-anchor="middle" fill="#111">0</text><line x1="365.87" y1="406.0" x2="365.87" y2="411.3" stroke="#222" stroke-width="1"/><text x="365.87" y="421.5" font-size="8.7" text-anchor="middle" fill="#111">500</text><line x1="419.23" y1="406.0" x2="419.23" y2="411.3" stroke="#222" stroke-width="1"/><text x="419.23" y="421.5" font-size="8.7" text-anchor="middle" fill="#111">1000</text><line x1="472.60" y1="406.0" x2="472.60" y2="411.3" stroke="#222" stroke-width="1"/><text x="472.60" y="421.5" font-size="8.7" text-anchor="middle" fill="#111">1500</text><line x1="307.5" y1="399.90" x2="312.5" y2="399.90" stroke="#222" stroke-width="1"/><text transform="translate(301.80,399.90) rotate(-90)" font-size="8.7" text-anchor="middle" fill="#111">0.0</text><line x1="307.5" y1="368.22" x2="312.5" y2="368.22" stroke="#222" stroke-width="1"/><text transform="translate(301.80,368.22) rotate(-90)" font-size="8.7" text-anchor="middle" fill="#111">0.2</text><line x1="307.5" y1="336.54" x2="312.5" y2="336.54" stroke="#222" stroke-width="1"/><text transform="translate(301.80,336.54) rotate(-90)" font-size="8.7" text-anchor="middle" fill="#111">0.4</text><line x1="307.5" y1="304.86" x2="312.5" y2="304.86" stroke="#222" stroke-width="1"/><text transform="translate(301.80,304.86) rotate(-90)" font-size="8.7" text-anchor="middle" fill="#111">0.6</text><line x1="307.5" y1="273.18" x2="312.5" y2="273.18" stroke="#222" stroke-width="1"/><text transform="translate(301.80,273.18) rotate(-90)" font-size="8.7" text-anchor="middle" fill="#111">0.8</text><line x1="307.5" y1="241.50" x2="312.5" y2="241.50" stroke="#222" stroke-width="1"/><text transform="translate(301.80,241.50) rotate(-90)" font-size="8.7" text-anchor="middle" fill="#111">1.0</text><text transform="translate(285.00,319.10) rotate(-90)" font-size="10.3" text-anchor="middle" fill="#111" textLength="75.5" lengthAdjust="spacingAndGlyphs">Proportion alive</text><line x1="342.1" y1="240.70" x2="357.70" y2="240.70" stroke="#25c425" stroke-width="2.3"/><text x="362.5" y="243.40" font-size="8.03" fill="#222">Unfavorable/≤1 lesions (n=11)</text><line x1="342.1" y1="249.25" x2="351.60" y2="249.25" stroke="#25c425" stroke-width="2.3"/><text x="362.5" y="251.95" font-size="8.03" fill="#222">Unfavorable/≥2 lesions (n=24)</text><line x1="342.1" y1="257.80" x2="357.70" y2="257.80" stroke="#0c0cd0" stroke-width="2.3"/><text x="362.5" y="260.50" font-size="8.03" fill="#222">Intermediate-Favorable/≤1 lesions (n=51)</text><line x1="342.1" y1="266.35" x2="351.60" y2="266.35" stroke="#0c0cd0" stroke-width="2.3"/><text x="362.5" y="269.05" font-size="8.03" fill="#222">Intermediate-Favorable/≥2 lesions (n=11)</text><text x="327.2" y="401.1" font-size="8.4" fill="#000" xml:space="preserve" textLength="180.2" lengthAdjust="spacingAndGlyphs">1. HR=2.42; <tspan font-style="italic">P</tspan> = .064  2. HR=3.13; <tspan font-style="italic">P</tspan> = .004</text></g><g><path d="M312.8,446.1H313.5V454.0H314.5V462.0H316.0V470.0H319.5V477.0H321.0V482.0H322.5V490.0H323.5V498.0H324.5V506.0H325.5V514.6H326.5V528.0H330.0V537.0H337.5V548.0H343.0V555.0H343.5V568.0H353.5V572.0H356.0V580.0H366.0V590.8H392.0" fill="none" stroke="#25c425" stroke-width="2.5" stroke-dasharray="9.2 8.6" stroke-dashoffset="14.70"/><path d="M331.0,534.2V540.2M328.5,537.2H333.5" stroke="#25c425" stroke-width="1.2"/><path d="M338.0,544.5V550.5M335.5,547.5H340.5" stroke="#25c425" stroke-width="1.2"/><path d="M354.5,567.5V573.5M352.0,570.5H357.0" stroke="#25c425" stroke-width="1.2"/><path d="M356.0,574.0V580.0M353.5,577.0H358.5" stroke="#25c425" stroke-width="1.2"/><path d="M370.0,587.8V593.8M367.5,590.8H372.5" stroke="#25c425" stroke-width="1.2"/><path d="M312.8,446.1H313.0V472.5H314.5V498.9H319.5V525.3H334.5V551.7H340.0V578.1H438.0" fill="none" stroke="#0c0cd0" stroke-width="2.5" stroke-dasharray="9.2 8.6" stroke-dashoffset="15.80"/><path d="M325.4,522.3V528.3M322.9,525.3H327.9" stroke="#0c0cd0" stroke-width="1.2"/><path d="M337.7,548.7V554.7M335.2,551.7H340.2" stroke="#0c0cd0" stroke-width="1.2"/><path d="M365.0,575.1V581.1M362.5,578.1H367.5" stroke="#0c0cd0" stroke-width="1.2"/><path d="M435.3,575.1V581.1M432.8,578.1H437.8" stroke="#0c0cd0" stroke-width="1.2"/><path d="M313.0,446.1H314.0V457.4H315.5V468.7H317.0V480.0H318.0V491.4H325.4V501.8H333.1V513.8H340.0V524.9H351.5V536.9H510.7" fill="none" stroke="#25c425" stroke-width="2.5"/><path d="M366.2,533.9V539.9M363.7,536.9H368.7" stroke="#25c425" stroke-width="1.2"/><path d="M373.1,533.9V539.9M370.6,536.9H375.6" stroke="#25c425" stroke-width="1.2"/><path d="M428.5,533.9V539.9M426.0,536.9H431.0" stroke="#25c425" stroke-width="1.2"/><path d="M447.4,533.9V539.9M444.9,536.9H449.9" stroke="#25c425" stroke-width="1.2"/><path d="M471.6,533.9V539.9M469.1,536.9H474.1" stroke="#25c425" stroke-width="1.2"/><path d="M510.7,533.9V539.9M508.2,536.9H513.2" stroke="#25c425" stroke-width="1.2"/><path d="M312.9,446.5H315.2V448.8H316.9V451.1H319.2V453.4H321.0V456.8H322.1V460.9H329.6V463.8H331.3V466.6H333.1V469.0H334.8V471.3H337.1V474.1H349.2V476.4H350.4V479.9H351.5V483.4H352.7V486.8H353.8V491.4H355.0V496.1H356.1V500.7H357.9V504.1H359.6V505.9H361.9V507.6H364.2V509.3H366.5V511.0H369.0V513.0H372.0V515.0H375.0V516.5H379.0V517.5H393.5V520.2H397.5V522.9H401.6V525.6H404.3V529.6H407.0V533.7H409.6V536.4H412.3V540.4H415.0V543.1H417.7V547.2H420.4V549.9H423.1V552.6H444.7V563.9H508.0" fill="none" stroke="#0c0cd0" stroke-width="2.5"/><path d="M390.8,514.5V520.5M388.3,517.5H393.3" stroke="#0c0cd0" stroke-width="1.2"/><path d="M427.2,549.6V555.6M424.7,552.6H429.7" stroke="#0c0cd0" stroke-width="1.2"/><path d="M433.9,549.6V555.6M431.4,552.6H436.4" stroke="#0c0cd0" stroke-width="1.2"/><path d="M439.3,549.6V555.6M436.8,552.6H441.8" stroke="#0c0cd0" stroke-width="1.2"/><path d="M443.3,549.6V555.6M440.8,552.6H445.8" stroke="#0c0cd0" stroke-width="1.2"/><path d="M456.8,560.9V566.9M454.3,563.9H459.3" stroke="#0c0cd0" stroke-width="1.2"/><path d="M470.3,560.9V566.9M467.8,563.9H472.8" stroke="#0c0cd0" stroke-width="1.2"/><path d="M471.6,560.9V566.9M469.1,563.9H474.1" stroke="#0c0cd0" stroke-width="1.2"/><path d="M508.0,560.9V566.9M505.5,563.9H510.5" stroke="#0c0cd0" stroke-width="1.2"/><path d="M354.6,570.0A31.6,30.8 0 0 0 386.2,539.2" fill="none" stroke="#dc2435" stroke-width="2.9"/><text x="388.5" y="563" font-size="9.3" fill="#111">1</text><path d="M439.3,579.5A22.9,13.5 0 0 0 462.2,566.0" fill="none" stroke="#dc2435" stroke-width="2.9"/><text x="458.2" y="582.2" font-size="10" fill="#111">2</text><rect x="312.8" y="440.1" width="204.8" height="170.60000000000002" fill="none" stroke="#111" stroke-width="1.25"/><line x1="312.80" y1="610.7" x2="312.80" y2="616.0" stroke="#222" stroke-width="1"/><text x="312.80" y="626.2" font-size="8.7" text-anchor="middle" fill="#111">0</text><line x1="366.17" y1="610.7" x2="366.17" y2="616.0" stroke="#222" stroke-width="1"/><text x="366.17" y="626.2" font-size="8.7" text-anchor="middle" fill="#111">500</text><line x1="419.53" y1="610.7" x2="419.53" y2="616.0" stroke="#222" stroke-width="1"/><text x="419.53" y="626.2" font-size="8.7" text-anchor="middle" fill="#111">1000</text><line x1="472.89" y1="610.7" x2="472.89" y2="616.0" stroke="#222" stroke-width="1"/><text x="472.89" y="626.2" font-size="8.7" text-anchor="middle" fill="#111">1500</text><line x1="307.8" y1="604.60" x2="312.8" y2="604.60" stroke="#222" stroke-width="1"/><text transform="translate(302.10,604.60) rotate(-90)" font-size="8.7" text-anchor="middle" fill="#111">0.0</text><line x1="307.8" y1="572.90" x2="312.8" y2="572.90" stroke="#222" stroke-width="1"/><text transform="translate(302.10,572.90) rotate(-90)" font-size="8.7" text-anchor="middle" fill="#111">0.2</text><line x1="307.8" y1="541.20" x2="312.8" y2="541.20" stroke="#222" stroke-width="1"/><text transform="translate(302.10,541.20) rotate(-90)" font-size="8.7" text-anchor="middle" fill="#111">0.4</text><line x1="307.8" y1="509.50" x2="312.8" y2="509.50" stroke="#222" stroke-width="1"/><text transform="translate(302.10,509.50) rotate(-90)" font-size="8.7" text-anchor="middle" fill="#111">0.6</text><line x1="307.8" y1="477.80" x2="312.8" y2="477.80" stroke="#222" stroke-width="1"/><text transform="translate(302.10,477.80) rotate(-90)" font-size="8.7" text-anchor="middle" fill="#111">0.8</text><line x1="307.8" y1="446.10" x2="312.8" y2="446.10" stroke="#222" stroke-width="1"/><text transform="translate(302.10,446.10) rotate(-90)" font-size="8.7" text-anchor="middle" fill="#111">1.0</text><text transform="translate(285.30,525.20) rotate(-90)" font-size="10.3" text-anchor="middle" fill="#111" textLength="75.5" lengthAdjust="spacingAndGlyphs">Proportion alive</text><line x1="340.7" y1="446.90" x2="356.30" y2="446.90" stroke="#25c425" stroke-width="2.3"/><text x="361.5" y="449.60" font-size="8.03" fill="#222">Unfavorable/≤2 lesions (n=14)</text><line x1="340.7" y1="455.45" x2="350.20" y2="455.45" stroke="#25c425" stroke-width="2.3"/><text x="361.5" y="458.15" font-size="8.03" fill="#222">Unfavorable/≥3 lesions (n=21)</text><line x1="340.7" y1="464.00" x2="356.30" y2="464.00" stroke="#0c0cd0" stroke-width="2.3"/><text x="361.5" y="466.70" font-size="8.03" fill="#222">Intermediate-Favorable/≤2 lesions (n=56)</text><line x1="340.7" y1="472.55" x2="350.20" y2="472.55" stroke="#0c0cd0" stroke-width="2.3"/><text x="361.5" y="475.25" font-size="8.03" fill="#222">Intermediate-Favorable/≥3 lesions (n=6)</text><text x="326.3" y="606.7" font-size="8.4" fill="#000" xml:space="preserve" textLength="180.5" lengthAdjust="spacingAndGlyphs">1. HR=2.25; <tspan font-style="italic">P</tspan> = .062  2. HR=3.16; <tspan font-style="italic">P</tspan> = .018</text></g><g><path d="M314.2,657.6H315.0V665.0H316.0V672.0H317.0V680.0H318.5V687.0H320.0V693.0H322.5V697.0H324.5V703.0H325.5V708.0H326.0V718.0H326.5V726.0H327.3V738.0H328.0V742.3H329.0V751.5H330.0V758.5H335.0V762.5H337.0V766.0H338.0V769.0H340.0V776.0H341.5V783.8H345.0V788.5H347.0V794.6H356.0V796.0H358.0V802.3H365.7V804.0H371.0" fill="none" stroke="#25c425" stroke-width="2.5" stroke-dasharray="9.2 8.6" stroke-dashoffset="0.00"/><path d="M346.0,788.0V794.0M343.5,791.0H348.5" stroke="#25c425" stroke-width="1.2"/><path d="M369.0,801.0V807.0M366.5,804.0H371.5" stroke="#25c425" stroke-width="1.2"/><path d="M314.2,657.6H321.5V736.5H439.0" fill="none" stroke="#0c0cd0" stroke-width="2.5" stroke-dasharray="9.2 8.6" stroke-dashoffset="16.90"/><path d="M437.5,733.5V739.5M435.0,736.5H440.0" stroke="#0c0cd0" stroke-width="1.2"/><path d="M314.2,657.6H316.0V665.5H317.0V673.4H317.8V681.3H318.6V689.2H320.5V694.7H322.8V704.1H327.0V712.2H335.6V720.3H341.7V737.0H353.4V746.2H394.2V760.4H511.6" fill="none" stroke="#25c425" stroke-width="2.5"/><path d="M358.8,743.2V749.2M356.3,746.2H361.3" stroke="#25c425" stroke-width="1.2"/><path d="M368.0,743.2V749.2M365.5,746.2H370.5" stroke="#25c425" stroke-width="1.2"/><path d="M375.7,743.2V749.2M373.2,746.2H378.2" stroke="#25c425" stroke-width="1.2"/><path d="M429.0,757.4V763.4M426.5,760.4H431.5" stroke="#25c425" stroke-width="1.2"/><path d="M450.3,757.4V763.4M447.8,760.4H452.8" stroke="#25c425" stroke-width="1.2"/><path d="M473.1,757.4V763.4M470.6,760.4H475.6" stroke="#25c425" stroke-width="1.2"/><path d="M511.6,757.4V763.4M509.1,760.4H514.1" stroke="#25c425" stroke-width="1.2"/><path d="M315.4,658.4H316.7V661.7H318.1V664.4H320.1V667.1H321.4V670.5H322.8V673.9H324.1V675.9H332.2V679.2H333.5V681.9H335.6V684.0H336.9V687.3H338.2V690.0H340.3V692.7H342.3V694.7H351.0V697.4H352.4V700.1H353.7V704.1H355.1V708.2H356.4V712.2H357.8V716.3H359.1V720.3H360.5V723.7H363.1V725.7H365.8V727.7H369.2V729.0H371.9V730.4H374.6V732.4H377.7V734.8H400.5V739.9H403.3V742.7H406.2V745.6H409.0V749.9H411.9V752.7H414.7V755.6H417.6V758.4H421.9V761.3H424.7V765.0H427.6V767.8H446.6V776.9H510.2" fill="none" stroke="#0c0cd0" stroke-width="2.5"/><path d="M383.4,731.8V737.8M380.9,734.8H385.9" stroke="#0c0cd0" stroke-width="1.2"/><path d="M390.5,731.8V737.8M388.0,734.8H393.0" stroke="#0c0cd0" stroke-width="1.2"/><path d="M431.8,764.8V770.8M429.3,767.8H434.3" stroke="#0c0cd0" stroke-width="1.2"/><path d="M439.0,764.8V770.8M436.5,767.8H441.5" stroke="#0c0cd0" stroke-width="1.2"/><path d="M443.2,764.8V770.8M440.7,767.8H445.7" stroke="#0c0cd0" stroke-width="1.2"/><path d="M457.5,773.9V779.9M455.0,776.9H460.0" stroke="#0c0cd0" stroke-width="1.2"/><path d="M471.7,773.9V779.9M469.2,776.9H474.2" stroke="#0c0cd0" stroke-width="1.2"/><path d="M508.8,773.9V779.9M506.3,776.9H511.3" stroke="#0c0cd0" stroke-width="1.2"/><path d="M347.2,787.0A34.6,38.5 0 0 0 381.8,748.5" fill="none" stroke="#dc2435" stroke-width="2.9"/><text x="378.8" y="783" font-size="9.3" fill="#111">1</text><rect x="314.2" y="651.0" width="205.00000000000006" height="170.29999999999995" fill="none" stroke="#111" stroke-width="1.25"/><line x1="314.20" y1="821.3" x2="314.20" y2="826.5999999999999" stroke="#222" stroke-width="1"/><text x="314.20" y="836.8" font-size="8.7" text-anchor="middle" fill="#111">0</text><line x1="367.56" y1="821.3" x2="367.56" y2="826.5999999999999" stroke="#222" stroke-width="1"/><text x="367.56" y="836.8" font-size="8.7" text-anchor="middle" fill="#111">500</text><line x1="420.93" y1="821.3" x2="420.93" y2="826.5999999999999" stroke="#222" stroke-width="1"/><text x="420.93" y="836.8" font-size="8.7" text-anchor="middle" fill="#111">1000</text><line x1="474.29" y1="821.3" x2="474.29" y2="826.5999999999999" stroke="#222" stroke-width="1"/><text x="474.29" y="836.8" font-size="8.7" text-anchor="middle" fill="#111">1500</text><line x1="309.2" y1="815.20" x2="314.2" y2="815.20" stroke="#222" stroke-width="1"/><text transform="translate(303.50,815.20) rotate(-90)" font-size="8.7" text-anchor="middle" fill="#111">0.0</text><line x1="309.2" y1="783.56" x2="314.2" y2="783.56" stroke="#222" stroke-width="1"/><text transform="translate(303.50,783.56) rotate(-90)" font-size="8.7" text-anchor="middle" fill="#111">0.2</text><line x1="309.2" y1="751.92" x2="314.2" y2="751.92" stroke="#222" stroke-width="1"/><text transform="translate(303.50,751.92) rotate(-90)" font-size="8.7" text-anchor="middle" fill="#111">0.4</text><line x1="309.2" y1="720.28" x2="314.2" y2="720.28" stroke="#222" stroke-width="1"/><text transform="translate(303.50,720.28) rotate(-90)" font-size="8.7" text-anchor="middle" fill="#111">0.6</text><line x1="309.2" y1="688.64" x2="314.2" y2="688.64" stroke="#222" stroke-width="1"/><text transform="translate(303.50,688.64) rotate(-90)" font-size="8.7" text-anchor="middle" fill="#111">0.8</text><line x1="309.2" y1="657.00" x2="314.2" y2="657.00" stroke="#222" stroke-width="1"/><text transform="translate(303.50,657.00) rotate(-90)" font-size="8.7" text-anchor="middle" fill="#111">1.0</text><text transform="translate(286.70,741.20) rotate(-90)" font-size="10.3" text-anchor="middle" fill="#111" textLength="75.5" lengthAdjust="spacingAndGlyphs">Proportion alive</text><line x1="342.1" y1="659.50" x2="357.70" y2="659.50" stroke="#25c425" stroke-width="2.3"/><text x="362.9" y="662.20" font-size="8.03" fill="#222">Unfavorable/≤3 lesions (n=20)</text><line x1="342.1" y1="668.05" x2="351.60" y2="668.05" stroke="#25c425" stroke-width="2.3"/><text x="362.9" y="670.75" font-size="8.03" fill="#222">Unfavorable/≥4 lesions (n=15)</text><line x1="342.1" y1="676.60" x2="357.70" y2="676.60" stroke="#0c0cd0" stroke-width="2.3"/><text x="362.9" y="679.30" font-size="8.03" fill="#222">Intermediate-Favorable/≤3 lesions (n=60)</text><line x1="342.1" y1="685.15" x2="351.60" y2="685.15" stroke="#0c0cd0" stroke-width="2.3"/><text x="362.9" y="687.85" font-size="8.03" fill="#222">Intermediate-Favorable/≥4 lesions (n=2)</text><text x="424.9" y="816.1" font-size="8.4" fill="#000" xml:space="preserve" textLength="87.6" lengthAdjust="spacingAndGlyphs">1. HR=2.72; <tspan font-style="italic">P</tspan> = .014</text></g><text x="149.15" y="854.2" font-size="10.2" text-anchor="middle" fill="#111" textLength="56.7" lengthAdjust="spacingAndGlyphs">Time (days)</text><text x="426.9" y="854.2" font-size="10.2" text-anchor="middle" fill="#111" textLength="55.5" lengthAdjust="spacingAndGlyphs">Time (days)</text></svg></body></html>
